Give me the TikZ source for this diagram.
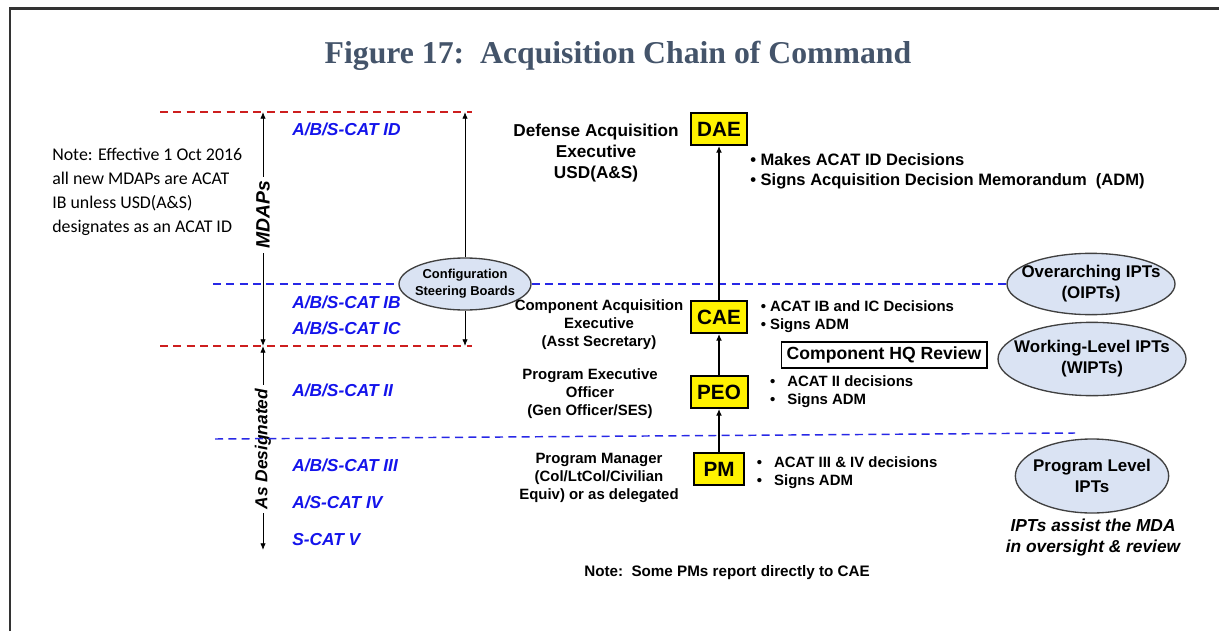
\documentclass[tikz,border=0pt]{standalone}
\usepackage{fontspec}
\setmainfont{Liberation Sans}
\newfontfamily\titlefont{Liberation Serif}
\newfontfamily\notefont{Carlito}
\usepackage{tikz}
\usetikzlibrary{arrows.meta, positioning, shapes.geometric}
\usepackage{xcolor}
\definecolor{titleslate}{RGB}{68,84,106}
\definecolor{catblue}{RGB}{20,20,235}
\definecolor{lineblue}{RGB}{40,40,230}
\definecolor{linered}{RGB}{205,30,30}
\definecolor{iptblue}{RGB}{218,227,243}

\begin{document}
\begin{tikzpicture}[
x=0.75pt, y=-0.75pt,
office/.style={draw,
line width=1.5pt,
fill=yellow,
minimum width=37pt,
minimum height=24pt,
inner xsep=5pt,
font=\fontsize{15.5}{18}\selectfont\bfseries},
role/.style={align=center,
font=\fontsize{11.2}{13.5}\selectfont\bfseries},
duty/.style={anchor=west,
align=left,
inner sep=0pt,
font=\fontsize{11.2}{13.5}\selectfont\bfseries},
cat/.style={anchor=west,
inner sep=0pt,
text=catblue,
font=\fontsize{13}{15}\selectfont\bfseries\itshape},
ipt/.style={ellipse,
draw=black!75,
line width=1pt,
fill=iptblue,
align=center,
inner xsep=-12pt,
inner ysep=0pt,
font=\fontsize{12.7}{15.75}\selectfont\bfseries},
reddash/.style={draw=linered, line width=1.1pt, dash pattern=on 6pt off 4pt},
bluedash/.style={draw=lineblue, line width=1.1pt, dash pattern=on 6pt off 4pt},
span/.style={{Latex[length=5pt,width=4pt]}-{Latex[length=5pt,width=4pt]}, line width=0.6pt},
oneway/.style={-{Latex[length=5pt,width=4pt]}, line width=0.6pt},
arrow/.style={-{Latex[length=5pt,width=4.5pt]}, line width=2pt}
]

\useasboundingbox (0,0) rectangle (1219,631);
\draw[line width=2pt, black!80] (10,631) -- (10,8.5) -- (1219,8.5);

\node[font=\titlefont\fontsize{23.8}{26}\selectfont\bfseries, text=titleslate] (title) at (618,56) {Figure 17:\ \ Acquisition Chain of Command};

\node[anchor=west, align=left, inner sep=0pt, font=\notefont\fontsize{13.4}{18}\selectfont] (effnote) at (52,192) {Note: Effective 1 Oct 2016\\all new MDAPs are ACAT\\IB unless USD(A\&S)\\designates as an ACAT ID};

\draw[reddash] (160,112) -- (472,112);
\draw[reddash] (160,346) -- (472,346);

\coordinate (mdtop) at (263,112);
\coordinate (mdmid) at (263,346);
\coordinate (mdend) at (263,550);
\draw[span] (mdtop) -- (mdmid);
\draw[span] (mdmid) -- (mdend);
\node[rotate=90, fill=white, inner sep=3pt, font=\fontsize{14.5}{16}\selectfont\bfseries\itshape] (mdaps) at (263,215) {MDAPs};
\node[rotate=90, fill=white, inner sep=3pt, font=\fontsize{13}{15}\selectfont\bfseries\itshape] (asdes) at (263,449) {As Designated};

\node[cat] (catid) at (292,129) {A/B/S-CAT ID};
\node[cat] (catib) at (292,302) {A/B/S-CAT IB};
\node[cat] (catic) at (292,328) {A/B/S-CAT IC};
\node[cat] (catii) at (292,390) {A/B/S-CAT II};
\node[cat] (catiii) at (292,465) {A/B/S-CAT III};
\node[cat] (cativ) at (292,502) {A/S-CAT IV};
\node[cat] (catv) at (292,540) {S-CAT V};

\node[ipt, minimum width=99pt, minimum height=39pt, font=\fontsize{9.7}{12.5}\selectfont\bfseries] (csb) at (465,284) {Configuration\\Steering Boards};
\coordinate (cstop) at (465,112);
\coordinate (csbot) at (465,346);
\draw[oneway] (csb.north) -- (cstop);
\draw[oneway] (csb.south) -- (csbot);

\node[ipt, minimum width=126pt, minimum height=46pt] (oipt) at (1091,284) {Overarching IPTs\\(OIPTs)};
\node[ipt, minimum width=141pt, minimum height=55pt] (wipt) at (1092,359) {Working-Level IPTs\\(WIPTs)};
\node[ipt, minimum width=115pt, minimum height=55.5pt] (plipt) at (1092,476) {Program Level\\IPTs};
\node[align=center, font=\fontsize{13}{15.75}\selectfont\bfseries\itshape] (iptnote) at (1093,538) {IPTs assist the MDA\\in oversight \& review};

\coordinate (blstart) at (213,284);
\draw[bluedash] (blstart) -- (csb.west);
\draw[bluedash] (csb.east) -- (oipt.west);
\draw[bluedash] (215,439) -- (1075,433);

\node[role, font=\fontsize{12.9}{15.75}\selectfont\bfseries] (daelabel) at (596,153) {Defense Acquisition\\Executive\\USD(A\&S)};
\node[role] (caelabel) at (599,325) {Component Acquisition\\Executive\\(Asst Secretary)};
\node[role] (peolabel) at (590,394) {Program Executive\\Officer\\(Gen Officer/SES)};
\node[role] (pmlabel) at (599,478) {Program Manager\\(Col/LtCol/Civilian\\Equiv) or as delegated};

\node[office] (dae) at (719,129) {DAE};
\node[office] (cae) at (719,317) {CAE};
\node[office] (peo) at (719,392) {PEO};
\node[office] (pm) at (719,469) {PM};

\draw[arrow] (pm) -- (peo);
\draw[arrow] (peo) -- (cae);
\draw[arrow] (cae) -- (dae);

\node[duty, font=\fontsize{12.4}{15}\selectfont\bfseries] (daeduty) at (750,171) {• Makes ACAT ID Decisions\\• Signs Acquisition Decision Memorandum\ \ (ADM)};
\node[duty, right=9pt of cae] (caeduty) {• ACAT IB and IC Decisions\\• Signs ADM};
\node[draw, line width=1.3pt, inner xsep=4pt, minimum height=20pt, font=\fontsize{13.2}{15}\selectfont\bfseries] (hqreview) at (884,355) {Component HQ Review};
\node[duty, right=16pt of peo] (peoduty) {•\hspace{9pt}ACAT II decisions\\•\hspace{9pt}Signs ADM};
\node[duty, right=9pt of pm, yshift=-3pt] (pmduty) {•\hspace{9pt}ACAT III \& IV decisions\\•\hspace{9pt}Signs ADM};

\node[font=\fontsize{11.4}{13}\selectfont\bfseries] (pmnote) at (727,573) {Note:\ \ Some PMs report directly to CAE};

\end{tikzpicture}
\end{document}
